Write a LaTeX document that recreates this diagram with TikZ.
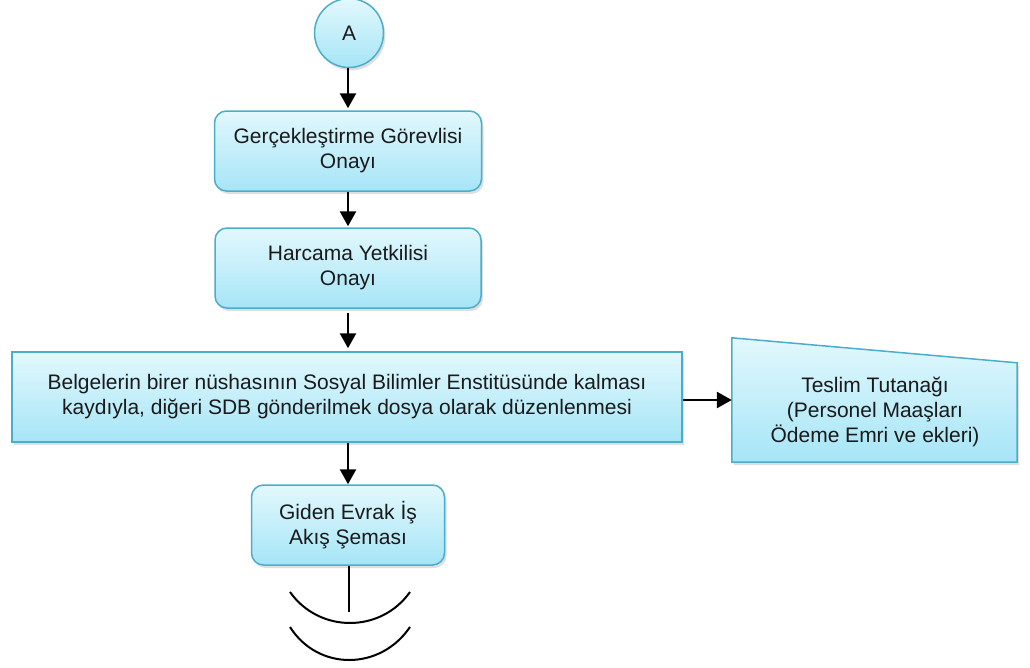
\documentclass[tikz,border=0pt]{standalone}
\usepackage{fontspec}
\setmainfont{Liberation Sans}
\usetikzlibrary{arrows.meta,shadows,calc}
\definecolor{boxtop}{HTML}{E2F8FD}
\definecolor{boxbot}{HTML}{A6E5F7}
\definecolor{boxline}{HTML}{4BADCC}
\definecolor{txt}{HTML}{1A1A1A}
\tikzset{
  flowbox/.style={draw=boxline, line width=1.5pt, top color=boxtop, bottom color=boxbot,
    drop shadow={opacity=0.25, shadow xshift=2pt, shadow yshift=-3pt},
    inner sep=0pt, align=center, text=txt, font=\fontsize{21}{25}\selectfont},
  roundbox/.style={flowbox, rounded corners=12pt},
  conn/.style={draw=black, line width=2.6pt, -{Triangle[length=15pt,width=16pt]}},
  thinline/.style={draw=black, line width=1.6pt},
}
\begin{document}
\begin{tikzpicture}[x=1pt,y=-1pt]
\useasboundingbox (0,0) rectangle (1030,667);
\node[flowbox, circle, minimum size=69pt] (A) at (349,33) {A};
\node[roundbox, minimum width=267pt, minimum height=80pt] (b1) at (348,151) {Gerçekleştirme Görevlisi\\Onayı};
\node[roundbox, minimum width=266pt, minimum height=80pt] (b2) at (348,268) {Harcama Yetkilisi\\Onayı};
\node[flowbox, minimum width=670pt, minimum height=90pt] (b3) at (347,397) {Belgelerin birer nüshasının Sosyal Bilimler Enstitüsünde kalması\\kaydıyla, diğeri SDB gönderilmek dosya olarak düzenlenmesi};
\node[roundbox, minimum width=193pt, minimum height=80pt] (b4) at (348,525) {Giden Evrak İş\\Akış Şeması};
% manual input shape
\node[inner sep=0pt, minimum width=285pt, minimum height=124pt] (tt) at (874.5,400) {};
\path[flowbox] (tt.north west) -- ($(tt.north east)+(0,25)$) -- (tt.south east) -- (tt.south west) -- cycle;
\node[inner sep=0pt, align=center, text=txt, font=\fontsize{21}{25}\selectfont] (ttxt) at (875,412) {Teslim Tutanağı\\(Personel Maaşları\\Ödeme Emri ve ekleri)};
% connectors
\draw[conn, shorten >=2pt] (A.south -| 348,0) -- (b1.north -| 348,0);
\draw[conn, shorten >=1pt] (b1.south -| 348,0) -- (b2.north -| 348,0);
\draw[conn, shorten <=4pt, shorten >=3pt] (b2.south -| 348,0) -- (b3.north -| 348,0);
\draw[conn] (b3.south -| 348,0) -- (b4.north -| 348,0);
\draw[conn] (b3.east |- tt.west) -- (tt.west);
\coordinate (lend) at (349,612);
\draw[thinline] (b4.south -| lend) -- (lend);
% break arcs
\draw[thinline, line width=2pt] (290,592) .. controls (319.3,633.3) and (380.7,633.3) .. (410,592);
\draw[thinline, line width=2pt] (290,627) .. controls (317.9,671) and (380.1,671) .. (410,627);
\end{tikzpicture}
\end{document}
